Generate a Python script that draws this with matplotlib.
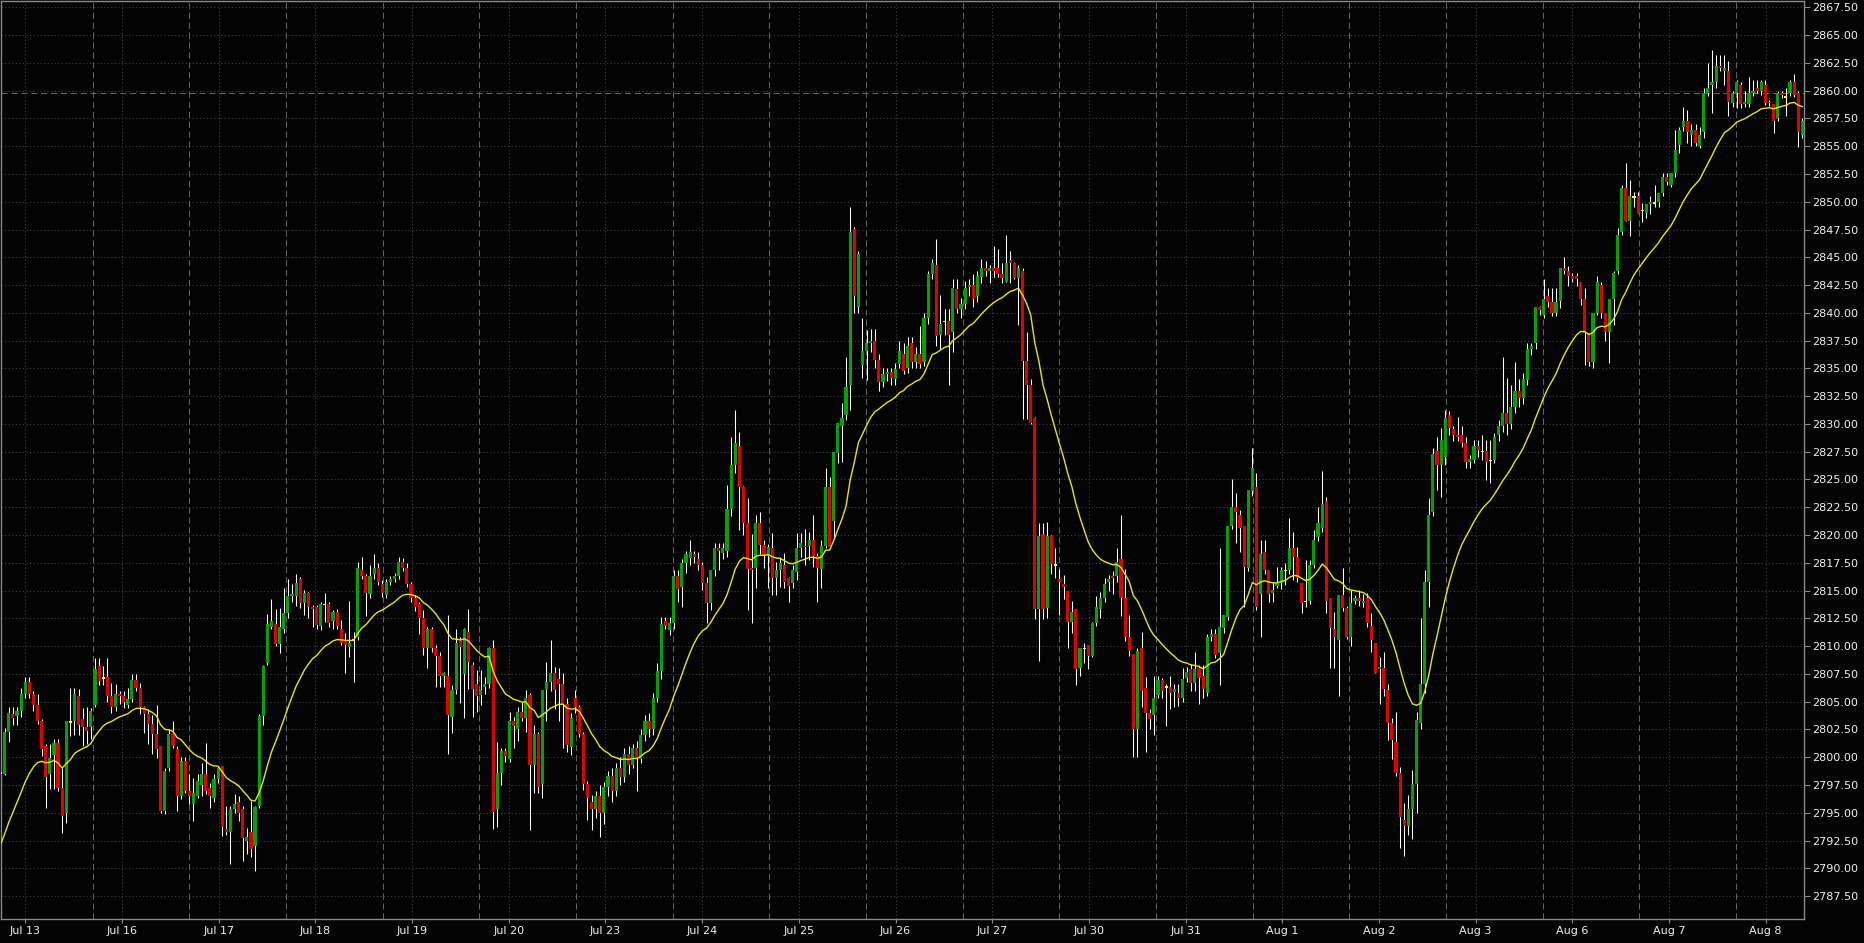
import numpy as np
import pandas as pd
import matplotlib
matplotlib.use("Agg")
import matplotlib.pyplot as plt

# ---------------- data (hourly OHLC) ----------------
opens = [
 2798.6, 2798.5, 2802.25, 2803.9, 2803.7, 2804.2, 2805.65, 2806.75, 2805.7, 2804.7,
 2803.25, 2801.0, 2798.45, 2800.2, 2801.3, 2797.25, 2795.0, 2803.15, 2803.25, 2805.5,
 2803.4, 2802.7, 2802.7, 2804.7, 2808.2, 2807.15, 2807.2, 2805.5, 2804.5, 2805.65,
 2805.5, 2804.7, 2805.25, 2806.95, 2806.25, 2804.5, 2803.9, 2803.0, 2802.05, 2801.0,
 2795.2, 2799.05, 2802.2, 2800.75, 2796.5, 2799.65, 2796.95, 2795.75, 2796.5, 2797.5,
 2798.45, 2797.25, 2796.3, 2798.0, 2799.2, 2793.55, 2793.3, 2795.3, 2796.0, 2795.3,
 2792.5, 2793.25, 2792.0, 2795.65, 2803.7, 2808.5, 2811.7, 2812.0, 2810.2, 2811.5,
 2813.0, 2814.5, 2814.5, 2816.0, 2813.85, 2814.8, 2813.55, 2813.55, 2811.8, 2813.75,
 2813.8, 2812.3, 2813.1, 2811.5, 2810.55, 2809.9, 2810.55, 2810.85, 2816.85, 2816.35,
 2814.65, 2816.5, 2817.05, 2815.6, 2814.6, 2815.8, 2816.05, 2816.3, 2817.55, 2817.05,
 2815.6, 2814.3, 2813.8, 2812.55, 2809.85, 2811.5, 2809.85, 2809.1, 2807.3, 2807.3,
 2803.6, 2806.05, 2810.55, 2807.5, 2811.3, 2808.3, 2806.6, 2805.6, 2806.35, 2806.6,
 2809.8, 2795.35, 2798.6, 2800.55, 2799.8, 2803.3, 2802.55, 2804.05, 2803.55, 2805.6,
 2799.3, 2802.1, 2797.6, 2806.05, 2806.8, 2807.55, 2807.0, 2806.6, 2804.8, 2800.9,
 2805.3, 2804.55, 2802.05, 2797.6, 2796.0, 2795.3, 2796.5, 2795.0, 2797.3, 2798.3,
 2797.0, 2799.0, 2798.2, 2800.3, 2799.3, 2800.8, 2799.8, 2802.0, 2803.3, 2802.5,
 2805.3, 2807.8, 2812.3, 2811.45, 2812.1, 2816.3, 2815.35, 2817.5, 2817.9, 2818.25,
 2817.8, 2817.3, 2815.65, 2813.85, 2816.85, 2818.8, 2818.35, 2818.55, 2822.3, 2826.3,
 2828.0, 2824.35, 2821.1, 2817.0, 2817.0, 2821.05, 2819.1, 2818.1, 2818.8, 2816.1,
 2816.85, 2817.3, 2816.1, 2815.65, 2816.7, 2818.8, 2819.05, 2819.0, 2819.55, 2818.1,
 2816.9, 2819.0, 2824.35, 2821.3, 2827.35, 2829.8, 2830.8, 2833.5, 2847.5, 2840.55,
 2835.3, 2836.55, 2837.25, 2837.5, 2835.75, 2833.8, 2834.5, 2834.7, 2834.0, 2835.35,
 2836.3, 2835.0, 2837.3, 2835.6, 2836.3, 2835.6, 2839.5, 2843.5, 2844.3, 2838.0,
 2839.2, 2839.3, 2838.3, 2842.1, 2840.3, 2840.8, 2842.3, 2842.5, 2841.55, 2843.25,
 2844.0, 2843.8, 2844.0, 2844.0, 2843.5, 2842.8, 2844.75, 2844.5, 2843.1, 2843.8,
 2835.7, 2833.5, 2830.5, 2813.3, 2820.1, 2813.4, 2819.9, 2817.3, 2816.0, 2815.6,
 2815.0, 2812.15, 2813.3, 2808.06, 2809.8, 2810.1, 2809.15, 2812.1, 2813.3, 2814.3,
 2815.8, 2816.3, 2816.35, 2817.8, 2814.3, 2810.85, 2809.3, 2802.5, 2809.8, 2806.25,
 2804.0, 2803.8, 2805.6, 2806.95, 2806.3, 2806.3, 2805.9, 2805.8, 2805.35, 2807.1,
 2807.9, 2806.65, 2808.06, 2807.3, 2805.8, 2810.8, 2811.05, 2809.35, 2811.6, 2812.65,
 2820.8, 2822.55, 2821.8, 2820.8, 2817.0, 2824.0, 2824.3, 2814.7, 2818.5, 2816.85,
 2814.8, 2815.4, 2815.65, 2816.8, 2816.85, 2818.8, 2818.05, 2815.7, 2814.0, 2814.05,
 2817.3, 2819.85, 2820.6, 2823.05, 2814.3, 2811.5, 2810.55, 2814.6, 2813.4, 2810.85,
 2814.1, 2814.3, 2813.85, 2814.3, 2811.8, 2810.3, 2807.9, 2808.0, 2806.05, 2803.1,
 2801.4, 2798.55, 2794.35, 2793.8, 2795.3, 2797.6, 2803.1, 2806.6, 2815.8, 2822.1,
 2827.6, 2826.3, 2827.05, 2830.8, 2829.5, 2829.0, 2829.0, 2828.3, 2826.6, 2826.75,
 2828.0, 2827.5, 2827.55, 2826.7, 2826.75, 2829.0, 2829.8, 2831.0, 2830.0, 2831.5,
 2833.0, 2832.3, 2833.95, 2836.7, 2837.3, 2840.55, 2839.8, 2841.5, 2841.0, 2840.0,
 2841.1, 2844.0, 2843.8, 2843.3, 2843.3, 2842.8, 2841.2, 2838.15, 2835.6, 2840.0,
 2842.5, 2840.0, 2838.3, 2841.2, 2843.8, 2847.3, 2851.2, 2848.3, 2850.45, 2850.5,
 2849.2, 2849.0, 2849.8, 2849.9, 2850.0, 2850.75, 2852.25, 2851.55, 2852.55, 2855.1,
 2856.7, 2857.3, 2856.0, 2856.5, 2855.0, 2856.3, 2859.75, 2860.5, 2860.8, 2862.2,
 2861.8, 2861.8, 2858.9, 2859.75, 2860.5, 2858.8, 2858.8, 2859.75, 2860.2, 2860.0,
 2860.5, 2859.0, 2858.8, 2857.55, 2859.75, 2859.45, 2859.75, 2860.8, 2859.75, 2856.0,
]
highs = [
 2799.8, 2802.6, 2804.5, 2804.5, 2804.5, 2806.25, 2807.2, 2807.2, 2806.0, 2805.65,
 2803.4, 2801.2, 2801.15, 2801.6, 2801.6, 2799.05, 2803.25, 2806.25, 2806.25, 2806.1,
 2804.45, 2804.5, 2804.45, 2808.95, 2808.95, 2808.2, 2808.95, 2806.7, 2806.55, 2806.0,
 2806.0, 2806.25, 2807.45, 2807.45, 2806.7, 2804.65, 2804.3, 2803.8, 2804.7, 2801.0,
 2799.0, 2802.5, 2803.25, 2801.0, 2800.0, 2800.0, 2798.45, 2798.15, 2798.45, 2799.5,
 2801.3, 2797.7, 2798.45, 2799.2, 2799.2, 2795.6, 2795.6, 2796.65, 2796.5, 2795.6,
 2793.65, 2796.05, 2795.6, 2803.9, 2808.3, 2812.85, 2814.2, 2813.3, 2813.45, 2815.25,
 2816.0, 2815.55, 2816.45, 2816.25, 2815.05, 2814.9, 2813.7, 2813.7, 2814.0, 2814.8,
 2814.0, 2813.25, 2813.3, 2812.35, 2811.15, 2814.05, 2811.3, 2817.6, 2818.05, 2816.5,
 2817.3, 2818.3, 2817.45, 2815.95, 2816.0, 2816.3, 2816.55, 2818.05, 2817.9, 2817.45,
 2815.8, 2814.6, 2814.0, 2813.25, 2811.75, 2811.75, 2810.1, 2809.5, 2807.7, 2812.8,
 2806.5, 2811.55, 2810.8, 2811.6, 2813.3, 2808.6, 2807.85, 2807.85, 2807.25, 2809.95,
 2810.55, 2801.35, 2800.8, 2800.8, 2804.1, 2803.65, 2804.55, 2805.0, 2806.05, 2805.75,
 2802.9, 2802.3, 2806.05, 2808.6, 2810.55, 2808.15, 2808.0, 2807.55, 2805.3, 2803.95,
 2806.05, 2804.7, 2802.3, 2797.9, 2796.6, 2797.0, 2797.5, 2797.8, 2798.8, 2799.0,
 2799.5, 2800.0, 2800.8, 2801.0, 2801.2, 2801.5, 2802.5, 2803.8, 2804.0, 2805.8,
 2808.5, 2812.6, 2812.6, 2812.6, 2816.85, 2816.85, 2817.8, 2818.55, 2819.55, 2818.55,
 2818.5, 2817.6, 2816.2, 2816.85, 2819.25, 2819.25, 2819.25, 2824.5, 2828.8, 2831.25,
 2829.3, 2824.4, 2823.3, 2820.05, 2821.8, 2822.1, 2819.55, 2819.2, 2820.15, 2817.6,
 2818.05, 2818.35, 2816.25, 2817.3, 2820.15, 2820.15, 2820.5, 2820.3, 2821.8, 2818.35,
 2819.55, 2826.0, 2825.25, 2827.5, 2830.05, 2831.85, 2836.05, 2849.55, 2847.75, 2845.6,
 2839.5, 2838.45, 2838.5, 2838.5, 2836.3, 2835.0, 2835.0, 2835.0, 2835.5, 2837.5,
 2837.3, 2837.8, 2837.8, 2836.9, 2838.8, 2840.0, 2843.8, 2844.8, 2846.6, 2841.6,
 2840.3, 2840.3, 2843.0, 2843.0, 2841.3, 2842.9, 2843.0, 2843.5, 2843.8, 2844.8,
 2844.7, 2844.3, 2846.0, 2845.7, 2844.5, 2847.0, 2845.6, 2844.6, 2844.3, 2844.0,
 2838.3, 2834.0, 2830.6, 2821.1, 2821.1, 2821.2, 2820.0, 2818.8, 2816.9, 2816.4,
 2815.0, 2814.1, 2813.3, 2809.8, 2810.3, 2810.1, 2812.2, 2814.5, 2814.9, 2816.1,
 2816.4, 2816.8, 2818.8, 2821.8, 2816.9, 2812.8, 2809.3, 2809.8, 2811.3, 2807.2,
 2804.3, 2807.3, 2807.3, 2807.1, 2806.6, 2807.3, 2806.6, 2806.6, 2808.06, 2808.1,
 2808.4, 2809.5, 2808.3, 2808.3, 2811.1, 2811.5, 2811.5, 2818.8, 2812.8, 2820.8,
 2825.0, 2823.8, 2822.25, 2820.8, 2824.05, 2827.8, 2825.55, 2819.55, 2819.55, 2816.85,
 2815.8, 2817.15, 2817.15, 2817.5, 2821.55, 2820.25, 2818.95, 2815.7, 2817.75, 2817.75,
 2820.45, 2822.55, 2825.8, 2823.4, 2814.3, 2813.1, 2814.6, 2817.0, 2813.6, 2815.05,
 2814.6, 2815.05, 2814.7, 2814.75, 2813.0, 2810.3, 2809.05, 2809.5, 2806.6, 2803.5,
 2804.1, 2799.1, 2795.85, 2796.6, 2798.85, 2804.1, 2812.5, 2816.85, 2823.3, 2827.8,
 2828.85, 2829.6, 2831.25, 2831.2, 2829.8, 2830.65, 2829.8, 2828.85, 2827.2, 2828.55,
 2828.55, 2829.0, 2828.55, 2828.55, 2829.15, 2830.35, 2836.05, 2834.1, 2833.5, 2835.6,
 2834.0, 2834.55, 2837.25, 2837.25, 2840.55, 2840.6, 2843.0, 2842.2, 2842.2, 2842.2,
 2844.0, 2845.0, 2844.2, 2843.6, 2843.55, 2842.8, 2842.2, 2838.15, 2840.0, 2843.3,
 2842.8, 2840.0, 2841.2, 2843.8, 2847.6, 2851.5, 2853.45, 2852.0, 2850.9, 2850.9,
 2849.85, 2849.8, 2850.5, 2851.5, 2850.75, 2852.55, 2852.55, 2852.55, 2856.5, 2856.7,
 2858.5, 2858.3, 2857.0, 2857.0, 2856.7, 2860.2, 2862.5, 2863.7, 2863.2, 2863.2,
 2863.2, 2862.7, 2860.0, 2861.0, 2860.8, 2860.0, 2861.25, 2861.0, 2861.0, 2861.0,
 2860.95, 2859.2, 2858.8, 2860.0, 2860.0, 2860.2, 2861.0, 2861.5, 2860.0, 2857.5,
]
lows = [
 2797.25, 2798.4, 2801.35, 2802.9, 2802.9, 2803.6, 2805.3, 2805.3, 2804.2, 2803.0,
 2800.1, 2795.45, 2797.1, 2797.1, 2797.0, 2793.2, 2794.1, 2801.9, 2802.0, 2802.0,
 2801.0, 2801.2, 2801.6, 2804.5, 2806.5, 2806.5, 2805.0, 2804.0, 2804.2, 2804.8,
 2804.45, 2804.45, 2805.0, 2806.0, 2803.9, 2802.2, 2801.2, 2800.3, 2799.95, 2795.0,
 2794.9, 2798.8, 2800.8, 2795.15, 2796.2, 2796.8, 2795.75, 2794.25, 2796.3, 2796.5,
 2796.7, 2795.45, 2796.0, 2797.7, 2792.9, 2793.0, 2790.35, 2795.0, 2794.25, 2790.65,
 2791.25, 2791.0, 2789.75, 2795.45, 2802.9, 2808.3, 2811.5, 2810.0, 2809.4, 2811.2,
 2812.5, 2814.0, 2813.6, 2813.4, 2812.8, 2812.5, 2811.75, 2811.5, 2811.45, 2812.2,
 2811.75, 2811.5, 2811.5, 2810.1, 2807.55, 2809.05, 2806.8, 2810.55, 2816.0, 2812.75,
 2814.3, 2816.0, 2815.5, 2814.45, 2814.3, 2815.5, 2815.8, 2816.0, 2816.8, 2815.3,
 2814.0, 2813.2, 2811.05, 2809.2, 2808.0, 2809.5, 2806.3, 2806.3, 2806.3, 2800.3,
 2802.15, 2805.7, 2804.85, 2803.5, 2806.1, 2803.65, 2804.1, 2804.7, 2805.7, 2806.2,
 2793.5, 2793.75, 2797.5, 2799.55, 2799.55, 2800.8, 2801.5, 2803.3, 2802.3, 2793.45,
 2796.75, 2796.75, 2796.3, 2803.3, 2806.0, 2804.35, 2803.3, 2800.8, 2800.5, 2800.2,
 2804.0, 2801.8, 2797.05, 2794.35, 2793.45, 2794.5, 2792.8, 2794.0, 2796.5, 2796.0,
 2796.5, 2797.5, 2797.8, 2798.5, 2799.0, 2797.0, 2799.5, 2801.5, 2801.8, 2802.0,
 2805.0, 2807.0, 2811.5, 2811.0, 2811.5, 2814.0, 2813.5, 2816.6, 2817.3, 2817.5,
 2816.85, 2815.05, 2812.05, 2813.25, 2816.3, 2816.85, 2817.8, 2818.0, 2821.7, 2825.55,
 2820.45, 2820.0, 2813.25, 2812.05, 2815.2, 2818.3, 2817.0, 2815.2, 2814.6, 2814.6,
 2815.35, 2815.2, 2814.0, 2815.2, 2815.95, 2818.05, 2817.3, 2817.75, 2817.15, 2814.0,
 2815.2, 2818.8, 2818.8, 2819.7, 2826.45, 2826.6, 2830.35, 2831.25, 2839.95, 2840.0,
 2834.1, 2833.95, 2836.5, 2835.0, 2833.0, 2833.3, 2833.9, 2833.5, 2833.5, 2835.0,
 2834.5, 2834.6, 2835.0, 2835.0, 2835.0, 2835.2, 2839.0, 2843.0, 2837.0, 2836.7,
 2838.0, 2833.5, 2836.5, 2840.0, 2839.5, 2840.3, 2841.5, 2840.5, 2841.0, 2842.7,
 2843.3, 2842.7, 2843.25, 2843.2, 2842.7, 2842.8, 2842.7, 2843.0, 2838.9, 2830.4,
 2830.4, 2830.0, 2812.4, 2808.7, 2812.4, 2812.5, 2816.5, 2816.1, 2812.8, 2814.2,
 2809.8, 2811.2, 2806.5, 2807.3, 2808.5, 2807.9, 2809.0, 2811.8, 2812.5, 2814.0,
 2815.0, 2814.7, 2815.8, 2812.7, 2810.5, 2809.1, 2800.0, 2800.0, 2804.5, 2800.5,
 2802.5, 2802.0, 2805.3, 2805.3, 2802.8, 2804.3, 2804.5, 2804.6, 2805.0, 2806.8,
 2806.0, 2806.0, 2804.8, 2805.3, 2805.5, 2810.5, 2808.9, 2806.5, 2811.2, 2812.35,
 2820.5, 2819.25, 2818.5, 2813.55, 2816.8, 2823.5, 2813.25, 2810.8, 2816.5, 2814.0,
 2814.0, 2815.2, 2815.1, 2815.5, 2816.5, 2815.95, 2815.8, 2813.0, 2813.5, 2813.8,
 2817.0, 2819.5, 2820.3, 2813.0, 2808.0, 2808.0, 2805.5, 2813.2, 2810.6, 2810.0,
 2813.8, 2813.6, 2813.5, 2811.75, 2809.5, 2807.6, 2804.8, 2805.5, 2801.55, 2799.8,
 2798.3, 2791.8, 2791.1, 2793.0, 2792.6, 2795.0, 2802.5, 2805.75, 2813.5, 2821.7,
 2824.05, 2823.4, 2826.3, 2829.0, 2828.5, 2828.5, 2827.9, 2826.0, 2826.0, 2826.5,
 2827.0, 2826.75, 2824.95, 2824.7, 2826.5, 2828.5, 2829.3, 2829.0, 2829.5, 2831.0,
 2831.5, 2831.8, 2833.5, 2836.2, 2836.7, 2839.8, 2839.5, 2840.5, 2839.7, 2839.7,
 2840.4, 2843.5, 2842.4, 2842.8, 2842.4, 2840.7, 2835.3, 2835.2, 2835.0, 2839.8,
 2839.5, 2837.5, 2835.5, 2838.9, 2843.5, 2847.0, 2848.3, 2846.9, 2849.5, 2849.0,
 2848.2, 2848.5, 2848.9, 2849.5, 2849.5, 2850.5, 2851.5, 2851.3, 2852.2, 2854.35,
 2856.4, 2855.3, 2855.0, 2855.0, 2854.8, 2855.7, 2859.5, 2858.0, 2860.2, 2861.8,
 2860.5, 2857.7, 2858.5, 2858.4, 2858.4, 2858.5, 2858.55, 2859.5, 2859.8, 2859.6,
 2858.7, 2858.6, 2856.2, 2857.3, 2859.3, 2857.7, 2859.5, 2859.4, 2854.95, 2855.7,
]
closes = [
 2798.6, 2802.25, 2804.0, 2803.5, 2804.2, 2805.65, 2806.75, 2805.7, 2804.7, 2803.25,
 2800.75, 2798.25, 2799.95, 2801.3, 2797.25, 2794.7, 2803.25, 2803.15, 2805.65, 2802.9,
 2802.7, 2802.4, 2804.2, 2807.95, 2806.9, 2807.15, 2805.5, 2804.5, 2805.65, 2805.5,
 2805.0, 2805.25, 2806.95, 2806.25, 2804.5, 2803.9, 2803.0, 2802.05, 2800.75, 2795.2,
 2798.8, 2802.05, 2801.0, 2796.5, 2799.65, 2796.95, 2796.5, 2796.8, 2797.85, 2798.45,
 2796.95, 2796.5, 2798.0, 2799.0, 2793.7, 2793.3, 2795.3, 2795.75, 2795.0, 2792.75,
 2792.8, 2791.75, 2795.5, 2803.75, 2808.2, 2812.0, 2812.25, 2810.2, 2811.7, 2813.0,
 2814.5, 2814.7, 2815.7, 2813.85, 2814.8, 2813.55, 2813.35, 2811.9, 2813.8, 2813.75,
 2812.1, 2813.1, 2811.8, 2810.3, 2810.1, 2810.3, 2810.55, 2817.05, 2816.35, 2814.8,
 2816.35, 2817.05, 2815.8, 2814.75, 2815.8, 2816.05, 2816.3, 2817.55, 2817.05, 2815.6,
 2814.3, 2813.55, 2812.55, 2809.85, 2811.5, 2809.85, 2809.1, 2807.3, 2807.55, 2803.8,
 2806.05, 2810.3, 2809.95, 2811.55, 2808.6, 2806.1, 2805.5, 2806.05, 2806.6, 2809.8,
 2795.1, 2798.55, 2800.55, 2800.1, 2803.3, 2802.85, 2804.05, 2803.55, 2805.3, 2799.3,
 2802.1, 2797.35, 2806.05, 2806.8, 2807.55, 2806.05, 2806.6, 2804.8, 2801.1, 2803.5,
 2804.55, 2802.05, 2797.6, 2796.3, 2795.35, 2796.5, 2795.0, 2797.3, 2798.3, 2797.0,
 2799.0, 2798.2, 2800.3, 2799.3, 2800.8, 2799.8, 2802.0, 2803.3, 2802.5, 2805.3,
 2807.8, 2812.0, 2811.8, 2812.05, 2816.3, 2815.1, 2817.5, 2818.25, 2818.5, 2818.05,
 2817.3, 2815.65, 2813.85, 2816.85, 2818.8, 2818.55, 2818.8, 2822.3, 2826.3, 2828.25,
 2824.35, 2821.1, 2816.9, 2816.85, 2821.05, 2819.1, 2818.1, 2818.95, 2816.1, 2816.85,
 2817.5, 2815.8, 2815.4, 2816.85, 2818.8, 2819.25, 2818.95, 2819.55, 2818.1, 2817.05,
 2819.0, 2824.35, 2818.95, 2827.5, 2830.05, 2830.5, 2833.35, 2847.3, 2841.5, 2845.3,
 2836.55, 2837.25, 2837.5, 2835.75, 2833.8, 2834.5, 2834.7, 2834.1, 2834.95, 2836.6,
 2834.8, 2837.0, 2835.6, 2836.3, 2835.35, 2839.5, 2843.5, 2844.5, 2837.9, 2839.0,
 2839.2, 2838.0, 2842.2, 2840.3, 2840.8, 2842.2, 2842.5, 2841.25, 2843.3, 2844.0,
 2843.8, 2844.0, 2843.8, 2843.5, 2843.1, 2844.5, 2844.5, 2843.1, 2844.0, 2835.7,
 2833.5, 2830.1, 2813.3, 2819.9, 2813.3, 2819.9, 2817.4, 2817.3, 2815.8, 2815.35,
 2812.15, 2813.1, 2807.9, 2809.8, 2809.8, 2809.15, 2812.1, 2813.5, 2814.3, 2815.6,
 2816.0, 2816.1, 2817.6, 2814.3, 2810.85, 2809.6, 2802.5, 2809.6, 2806.0, 2804.0,
 2803.4, 2805.3, 2806.95, 2806.0, 2806.3, 2805.8, 2806.1, 2805.35, 2807.0, 2807.65,
 2806.65, 2807.9, 2807.1, 2806.1, 2810.8, 2811.05, 2809.2, 2811.75, 2812.8, 2820.8,
 2822.55, 2822.1, 2820.6, 2817.1, 2824.05, 2826.0, 2813.55, 2818.3, 2816.85, 2814.7,
 2815.05, 2815.7, 2816.85, 2816.8, 2818.8, 2818.05, 2816.1, 2813.85, 2814.0, 2817.3,
 2819.55, 2821.05, 2822.8, 2814.1, 2811.6, 2810.85, 2814.6, 2813.4, 2810.85, 2813.85,
 2814.3, 2814.1, 2814.1, 2812.1, 2810.55, 2807.6, 2808.1, 2806.1, 2803.1, 2801.55,
 2798.6, 2794.65, 2793.8, 2795.3, 2797.6, 2803.35, 2806.6, 2815.8, 2821.8, 2827.3,
 2826.3, 2828.55, 2830.5, 2829.6, 2829.0, 2828.85, 2828.3, 2826.6, 2826.8, 2828.0,
 2827.65, 2827.5, 2826.6, 2826.7, 2828.8, 2829.8, 2831.0, 2830.0, 2831.5, 2833.0,
 2832.3, 2834.0, 2836.7, 2837.0, 2840.55, 2840.25, 2841.2, 2841.0, 2840.0, 2841.0,
 2844.0, 2843.8, 2843.35, 2843.05, 2843.05, 2841.2, 2838.15, 2835.6, 2840.0, 2842.8,
 2840.0, 2838.3, 2841.2, 2843.55, 2847.0, 2851.2, 2848.3, 2850.5, 2850.45, 2849.0,
 2849.2, 2849.8, 2849.9, 2849.9, 2850.75, 2852.25, 2851.8, 2852.55, 2854.7, 2856.5,
 2857.3, 2856.3, 2856.5, 2855.3, 2856.0, 2859.75, 2860.2, 2860.8, 2862.2, 2862.0,
 2862.0, 2859.0, 2859.75, 2860.8, 2858.8, 2859.0, 2859.75, 2860.0, 2860.0, 2860.8,
 2858.9, 2858.85, 2857.3, 2859.75, 2859.6, 2859.45, 2860.8, 2859.6, 2856.3, 2857.3,
]
day_labels = ["Jul 13", "Jul 16", "Jul 17", "Jul 18", "Jul 19", "Jul 20", "Jul 23",
              "Jul 24", "Jul 25", "Jul 26", "Jul 27", "Jul 30", "Jul 31", "Aug 1",
              "Aug 2", "Aug 3", "Aug 6", "Aug 7", "Aug 8"]
ma_seed = 2792.15       # moving-average value at the first visible bar
ma_period = 20
price_line = 2859.8     # horizontal dashed price line
y_ticks = np.arange(2787.5, 2867.51, 2.5)

n = len(closes)
assert len(opens) == n and len(highs) == n and len(lows) == n, (len(opens), len(highs), len(lows), n)

# ---------------- layout (pixel geometry of the reference) ----------------
W, H = 1864, 943
ax_left_px, ax_right_px, ax_top_px, ax_bot_px = 1, 1804, 1, 919
bar0_px, barN_px = 0.6, 1802.3
bar_px = (barN_px - bar0_px) / (n - 1)
first_tick_px, day_px, sep_off_px = 25.4, 96.68, 29.5

BG = "#030303"
GREEN = "#00a400"
RED = "#e00000"
DOJI = "#ffff00"
MA_COL = "#e8e800"
GRID = "#3c3c3c"
SEP = "#626262"
SPINE = "#8a8a8a"
TXT = "#f0f0f0"

fig = plt.figure(figsize=(W / 100, H / 100), dpi=100, facecolor=BG)
ax = fig.add_axes([ax_left_px / W, (H - ax_bot_px) / H,
                   (ax_right_px - ax_left_px) / W, (ax_bot_px - ax_top_px) / H])
ax.set_facecolor(BG)

x = np.arange(n)
o = np.array(opens); h = np.array(highs); l = np.array(lows); c = np.array(closes)
h = np.maximum(h, np.maximum(o, c))
l = np.minimum(l, np.minimum(o, c))

xmin = (ax_left_px - bar0_px) / bar_px
xmax = (ax_right_px - bar0_px) / bar_px
ax.set_xlim(xmin, xmax)
ymax = 2867.5 + (7.3 - ax_top_px) / 11.11
ymin = 2867.5 - (ax_bot_px - 7.3) / 11.11
ax.set_ylim(ymin, ymax)

tick_pos = [(first_tick_px + k * day_px - bar0_px) / bar_px for k in range(len(day_labels))]
sep_pos = [t - sep_off_px / bar_px for t in tick_pos]

# grid
for yv in y_ticks:
    ax.axhline(yv, color=GRID, lw=0.75, ls=(0, (1.2, 2.2)), zorder=0)
for t in tick_pos:
    ax.axvline(t, color=GRID, lw=0.75, ls=(0, (1.2, 2.2)), zorder=0)
for s in sep_pos:
    ax.axvline(s, color=SEP, lw=0.75, ls=(0, (6, 3.5)), zorder=0)
ax.axhline(price_line, color=SEP, lw=0.75, ls=(0, (6, 3.5)), zorder=0.5)

# candles
ax.vlines(x, l, h, color="white", lw=0.75, zorder=2)
min_body = 0.14
up = c > o
dn = c < o
eq = c == o
bw = 0.76
body_lo = np.minimum(o, c)
body_hi = np.maximum(o, c)
hgt = np.maximum(body_hi - body_lo, min_body)
ax.bar(x[up], hgt[up], bottom=body_lo[up], width=bw, color=GREEN, lw=0, zorder=3)
ax.bar(x[dn], hgt[dn], bottom=body_hi[dn] - hgt[dn], width=bw, color=RED, lw=0, zorder=3)
ax.bar(x[eq], min_body, bottom=c[eq] - min_body / 2, width=bw, color=DOJI, lw=0, zorder=3)

# moving average (EMA of closes)
alpha = 2.0 / (ma_period + 1)
ma = pd.Series([ma_seed] + list(closes[1:])).ewm(alpha=alpha, adjust=False).mean()
ax.plot(x, ma.values, color=MA_COL, lw=1.0, zorder=4)

# axes styling
for sp in ax.spines.values():
    sp.set_color(SPINE)
    sp.set_linewidth(1.0)
ax.yaxis.tick_right()
ax.set_yticks(y_ticks)
ax.set_yticklabels([f"{v:.2f}" for v in y_ticks])
ax.set_xticks(tick_pos)
ax.set_xticklabels(day_labels)
ax.tick_params(axis="y", colors=SPINE, labelcolor=TXT, labelsize=8, length=4, width=0.8, pad=2)
ax.tick_params(axis="x", colors=SPINE, labelcolor=TXT, labelsize=8, length=3, width=0.8, pad=2)

fig.savefig("out.png", dpi=100, facecolor=BG)
